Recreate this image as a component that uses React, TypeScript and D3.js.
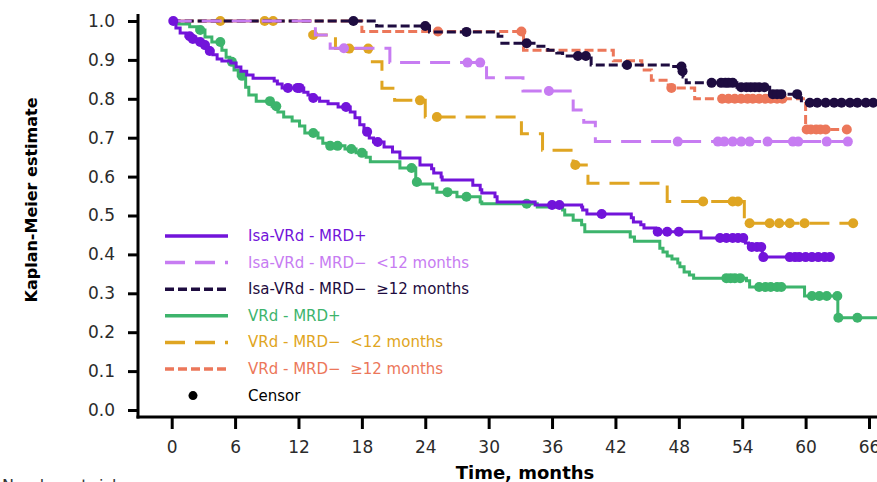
import React, { useRef, useEffect } from "react";
import * as d3 from "d3";

// axis ticks
const xTicks = [0, 6, 12, 18, 24, 30, 36, 42, 48, 54, 60, 66];
const yTicks = [0, 0.1, 0.2, 0.3, 0.4, 0.5, 0.6, 0.7, 0.8, 0.9, 1.0];

// [time in months, survival] - value holds from that time on
const isaPosSteps = [
  [0, 1], [0.4, 0.982], [0.8, 0.969], [1.35, 0.961], [1.9, 0.954], [2.4, 0.946], [2.9, 0.938],
  [3.25, 0.931], [3.6, 0.923], [3.9, 0.913], [4.3, 0.902], [4.75, 0.897], [5.6, 0.892], [6.1, 0.882],
  [6.55, 0.871], [7.1, 0.861], [7.7, 0.853], [9.7, 0.846], [10.0, 0.838], [10.45, 0.828], [12.5, 0.817],
  [12.9, 0.81], [13.4, 0.802], [14.0, 0.794], [14.8, 0.787], [15.75, 0.779], [16.9, 0.766], [17.35, 0.751],
  [17.8, 0.733], [18.2, 0.715], [18.7, 0.699], [19.1, 0.689], [20.1, 0.676], [20.9, 0.663], [21.6, 0.648],
  [23.5, 0.63], [24.6, 0.62], [24.8, 0.609], [25.5, 0.599], [25.6, 0.591], [28.5, 0.578], [29.2, 0.566],
  [29.35, 0.558], [30.6, 0.548], [30.8, 0.535], [34.4, 0.527], [38.8, 0.522], [38.9, 0.514], [39.3, 0.504],
  [43.5, 0.494], [43.7, 0.483], [44.4, 0.476], [44.7, 0.468], [45.8, 0.458], [50.1, 0.442], [54.3, 0.429],
  [54.6, 0.419], [55.9, 0.393],
];
const isaPosCensors = [
  0.15, 1.7, 2.0, 2.7, 3.15, 3.6, 11.0, 11.9, 12.1, 13.4, 16.5, 18.5, 19.5, 36.0, 36.7, 40.7, 46.0, 46.9,
  48.0, 51.9, 52.5, 53.1, 53.6, 54.1, 54.9, 55.4, 55.8, 56.0, 58.5, 59.0, 59.4, 60.0, 60.6, 61.2, 61.8, 62.3,
];

const isaNegShortSteps = [
  [0, 1], [13.6, 0.964], [15.0, 0.93], [20.65, 0.893], [29.8, 0.854], [33.25, 0.82], [38.0, 0.771],
  [39.0, 0.74], [40.1, 0.69],
];
const isaNegShortCensors = [
  16.3, 28.0, 29.2, 35.7, 47.9, 51.7, 52.3, 53.1, 53.9, 54.7, 56.4, 58.8, 59.3, 62.0, 64.0,
];

const isaNegLongSteps = [
  [0, 1], [19.4, 0.987], [24.4, 0.972], [30.9, 0.961], [31.25, 0.943], [34.5, 0.935], [35.6, 0.925],
  [36.45, 0.918], [37.0, 0.91], [39.7, 0.887], [47.0, 0.883], [48.3, 0.871], [48.4, 0.856], [48.7, 0.841],
  [53.5, 0.83], [56.6, 0.812], [59.4, 0.803], [59.6, 0.79],
];
const isaNegLongCensors = [
  17.2, 24.0, 27.9, 33.6, 38.45, 39.2, 43.1, 48.25, 48.35, 51.1, 52.0, 52.4, 52.7, 53.1, 53.9, 54.4, 54.8,
  55.2, 55.6, 56.1, 56.9, 57.3, 57.7, 59.2, 60.4, 61.1, 61.9, 62.7, 63.4, 64.2, 64.9, 65.7, 66.4,
];

const vrdPosSteps = [
  [0, 1], [0.6, 0.992], [1.7, 0.985], [2.4, 0.977], [3.15, 0.959], [3.8, 0.946], [4.75, 0.925],
  [5.15, 0.907], [5.5, 0.895], [5.9, 0.874], [6.3, 0.859], [7.0, 0.83], [7.3, 0.81], [8.0, 0.794],
  [9.5, 0.781], [10.05, 0.766], [10.6, 0.753], [11.4, 0.743], [12.1, 0.73], [12.6, 0.712], [13.85, 0.699],
  [14.3, 0.686], [14.8, 0.679], [16.4, 0.671], [17.45, 0.661], [18.4, 0.65], [18.8, 0.638], [21.6, 0.622],
  [23.1, 0.586], [23.5, 0.581], [24.7, 0.571], [25.1, 0.56], [27.0, 0.548], [29.2, 0.535], [29.35, 0.53],
  [34.6, 0.522], [37.0, 0.514], [37.2, 0.501], [38.0, 0.488], [38.8, 0.476], [39.1, 0.458], [43.4, 0.445],
  [43.8, 0.434], [46.2, 0.416], [46.5, 0.406], [46.9, 0.396], [47.35, 0.388], [47.9, 0.378], [48.1, 0.368],
  [48.5, 0.355], [49.0, 0.347], [49.4, 0.339], [54.4, 0.332], [54.7, 0.316], [59.9, 0.293], [63.05, 0.237],
];
const vrdPosCensors = [
  2.7, 4.6, 5.7, 6.65, 9.3, 9.9, 13.4, 15.0, 15.7, 17.0, 18.0, 22.7, 23.2, 26.1, 27.9, 33.6, 52.5, 52.9,
  53.3, 53.8, 55.6, 56.2, 56.7, 57.3, 57.7, 60.6, 61.3, 62.0, 63.0, 63.1, 64.9,
];

const vrdNegShortSteps = [
  [0, 1], [13.1, 0.964], [15.5, 0.929], [18.7, 0.895], [19.9, 0.827], [21.1, 0.796], [24.0, 0.753],
  [33.1, 0.71], [35.1, 0.668], [38.0, 0.63], [39.4, 0.583], [46.9, 0.536], [54.2, 0.48],
];
const vrdNegShortCensors = [
  4.6, 8.8, 9.6, 13.4, 16.8, 18.6, 23.5, 25.1, 38.2, 50.3, 53.1, 53.6, 54.7, 56.6, 57.5, 58.5, 59.9, 64.5,
];

const vrdNegLongSteps = [
  [0, 1], [18.0, 0.973], [33.3, 0.925], [41.8, 0.898], [44.5, 0.874], [45.4, 0.848], [47.0, 0.828],
  [49.5, 0.8], [60.0, 0.721],
];
const vrdNegLongCensors = [
  25.2, 33.1, 47.3, 52.1, 52.7, 53.3, 53.9, 54.5, 55.0, 55.6, 56.2, 56.7, 57.3, 57.8, 60.1, 60.5, 61.0,
  61.4, 61.9, 63.9,
];

const legendLabels = [
  "Isa-VRd - MRD+",
  "Isa-VRd - MRD\u2212  <12 months",
  "Isa-VRd - MRD\u2212  \u226512 months",
  "VRd - MRD+",
  "VRd - MRD\u2212  <12 months",
  "VRd - MRD\u2212  \u226512 months",
];
const colors = ["#7214da", "#c77cf2", "#1e0c40", "#3db46c", "#dfa522", "#ec775a"];
const dashes = ["none", "20,10", "9,4", "none", "20,10", "9,4"];

const W = 877;
const H = 482;
const FONT = "'DejaVu Sans', Verdana, sans-serif";

function stepValue(steps: number[][], t: number) {
  let v = steps[0][1];
  for (const s of steps) if (s[0] <= t) v = s[1];
  return v;
}

export default function App() {
  const ref = useRef<SVGSVGElement>(null);

  useEffect(() => {
    const svg = d3.select(ref.current);
    svg.selectAll("*").remove();

    const x = d3.scaleLinear().domain([0, 66]).range([171.7, 869]);
    const y = d3.scaleLinear().domain([0, 1]).range([410, 21]);

    const curves = [
      { steps: isaPosSteps, censors: isaPosCensors },
      { steps: isaNegShortSteps, censors: isaNegShortCensors },
      { steps: isaNegLongSteps, censors: isaNegLongCensors },
      { steps: vrdPosSteps, censors: vrdPosCensors },
      { steps: vrdNegShortSteps, censors: vrdNegShortCensors },
      { steps: vrdNegLongSteps, censors: vrdNegLongCensors },
    ];
    const ends = [62.3, 64.1, 66.6, 67, 64.5, 63.9];

    // axes
    svg.append("line").attr("x1", 138).attr("x2", 138).attr("y1", 14).attr("y2", 418.5)
      .attr("stroke", "#000").attr("stroke-width", 3);
    svg.append("line").attr("x1", 136.5).attr("x2", W).attr("y1", 417).attr("y2", 417)
      .attr("stroke", "#000").attr("stroke-width", 3);

    const gy = svg.append("g").attr("transform", "translate(138,0)")
      .call(d3.axisLeft(y).tickValues(yTicks).tickSize(10).tickPadding(13).tickFormat(d3.format(".1f")));
    gy.select(".domain").remove();
    const gx = svg.append("g").attr("transform", "translate(0,417)")
      .call(d3.axisBottom(x).tickValues(xTicks).tickSize(12).tickPadding(12));
    gx.select(".domain").remove();
    [gx, gy].forEach((g) => {
      g.attr("font-family", FONT).attr("font-size", 17);
      g.selectAll("line").attr("stroke", "#000").attr("stroke-width", 3);
      g.selectAll("text").attr("fill", "#2b2b2b");
    });

    svg.append("text").attr("transform", "translate(37,200) rotate(-90)")
      .attr("text-anchor", "middle").attr("font-family", FONT).attr("font-weight", "bold")
      .attr("font-size", 16).attr("fill", "#000").text("Kaplan-Meier estimate");
    svg.append("text").attr("x", 525).attr("y", 479)
      .attr("text-anchor", "middle").attr("font-family", FONT).attr("font-weight", "bold")
      .attr("font-size", 18).attr("fill", "#000").text("Time, months");
    svg.append("text").attr("x", 2).attr("y", 491)
      .attr("font-family", FONT).attr("font-size", 16).attr("fill", "#333").text("Number at risk");

    // curves, VRd arms underneath
    const line = d3.line<number[]>().x((d) => x(d[0])).y((d) => y(d[1])).curve(d3.curveStepAfter);
    const order = [5, 4, 3, 2, 1, 0];
    order.forEach((k) => {
      const c = curves[k];
      const pts = [...c.steps, [ends[k], c.steps[c.steps.length - 1][1]]];
      svg.append("path").attr("d", line(pts) as string).attr("fill", "none")
        .attr("stroke", colors[k]).attr("stroke-width", 3)
        .attr("stroke-dasharray", dashes[k]);
      svg.append("g").selectAll("circle").data(c.censors).enter().append("circle")
        .attr("cx", (t) => x(t)).attr("cy", (t) => y(stepValue(c.steps, t)))
        .attr("r", 5).attr("fill", colors[k]);
    });

    // legend
    const lg = svg.append("g").attr("transform", "translate(0,236)");
    legendLabels.forEach((lab, i) => {
      const row = lg.append("g").attr("transform", `translate(0,${i * 26.6})`);
      row.append("line").attr("x1", 165).attr("x2", 228).attr("y1", 0).attr("y2", 0)
        .attr("stroke", colors[i]).attr("stroke-width", 3.5).attr("stroke-dasharray", dashes[i]);
      row.append("text").attr("x", 248).attr("y", 5).attr("font-family", FONT).attr("font-size", 15)
        .attr("fill", colors[i]).style("white-space", "pre").text(lab);
    });
    const cr = lg.append("g").attr("transform", `translate(0,${6 * 26.6})`);
    cr.append("circle").attr("cx", 193).attr("cy", 0).attr("r", 4.5).attr("fill", "#000");
    cr.append("text").attr("x", 248).attr("y", 5).attr("font-family", FONT).attr("font-size", 15)
      .attr("fill", "#000").text("Censor");
  }, []);

  return (
    <svg ref={ref} width={W} height={H}
      style={{ position: "absolute", left: 0, top: 0, background: "#fff" }} />
  );
}
